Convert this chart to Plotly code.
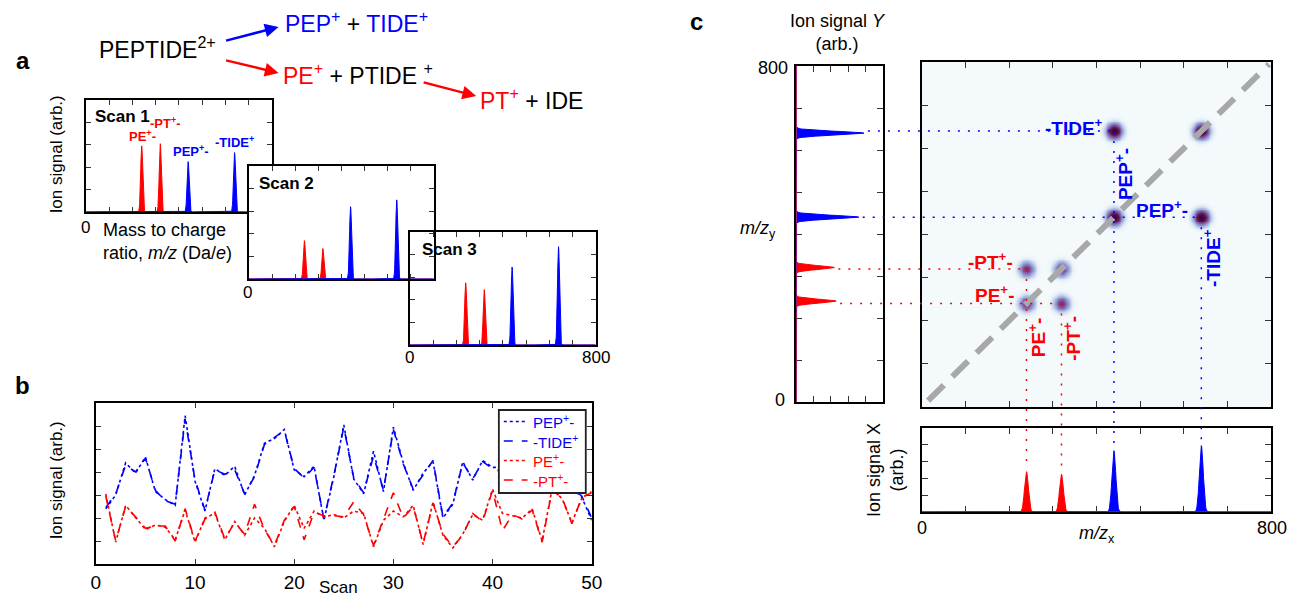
import numpy as np
import plotly.graph_objects as go

W, H = 1302, 598
FONT = "Liberation Sans, Arial, sans-serif"
BLUE = "#0000ff"
RED = "#ff0000"

# ---------------- data ----------------
ion_names = ["PE", "PT", "PEP", "TIDE"]
ion_mz = [240, 320, 440, 640]
ion_colors = [RED, RED, BLUE, BLUE]

scan1_heights = [0.59, 0.61, 0.45, 0.53]
scan2_heights = [0.34, 0.27, 0.64, 0.70]
scan3_heights = [0.55, 0.49, 0.69, 0.87]

scan_numbers = list(range(1, 51))
pep_signal = [2.4, 3.0, 4.4, 3.95, 4.65, 3.15, 2.8, 2.55, 6.45, 3.6,
              2.3, 4.15, 3.85, 4.25, 3.0, 3.85, 5.25, 5.45, 5.85, 4.1,
              3.8, 4.25, 1.9, 3.8, 6.05, 3.7, 3.05, 4.9, 3.15, 5.95,
              4.4, 3.2, 3.95, 4.45, 2.0, 2.6, 4.45, 3.65, 4.5, 4.2,
              4.2, 3.6, 4.5, 3.9, 4.8, 3.5, 4.6, 3.3, 2.9, 1.9]
tide_signal = [2.45, 3.05, 4.3, 4.0, 4.6, 3.2, 2.75, 2.6, 6.3, 3.65,
               2.35, 4.1, 3.9, 4.1, 3.05, 3.8, 5.2, 5.5, 5.8, 4.15,
               3.75, 4.2, 1.95, 3.85, 5.95, 3.75, 3.1, 4.7, 3.2, 5.85,
               4.35, 3.25, 3.85, 4.5, 2.05, 2.65, 4.4, 3.7, 4.45, 4.15,
               4.0, 3.65, 4.4, 3.95, 4.7, 3.55, 4.5, 3.35, 2.95, 2.0]
pe_signal = [3.05, 0.95, 2.55, 2.0, 1.5, 1.7, 1.6, 1.05, 2.35, 0.95,
             2.0, 2.2, 1.05, 1.85, 1.25, 2.0, 1.55, 0.75, 1.85, 2.55,
             1.55, 2.3, 2.05, 2.15, 2.0, 2.3, 2.2, 0.75, 1.9, 2.3,
             2.05, 2.55, 0.85, 2.7, 1.25, 0.7, 1.3, 2.15, 1.9, 3.25,
             2.2, 2.1, 2.0, 2.4, 1.0, 3.25, 2.85, 1.8, 2.85, 3.15]
pt_signal = [2.95, 1.0, 2.5, 2.05, 1.55, 1.65, 1.65, 1.0, 2.4, 1.0,
             1.95, 2.25, 1.1, 1.8, 1.3, 2.6, 1.5, 0.8, 1.9, 2.5,
             1.05, 2.25, 2.1, 2.1, 2.05, 2.7, 2.15, 0.8, 1.95, 3.1,
             2.0, 2.5, 0.9, 2.65, 1.3, 0.75, 1.25, 2.2, 1.85, 3.2,
             1.45, 2.15, 1.95, 2.35, 0.95, 3.2, 2.9, 1.75, 2.9, 3.1]

sum_x_heights = [0.48, 0.45, 0.73, 0.79]   # bottom projection (Ion signal X)
sum_y_heights = [0.46, 0.44, 0.72, 0.78]   # left projection (Ion signal Y)
guide_partner = [320, 240, 640, 440]        # end of dotted guide for each ion

spot_x = [440, 640, 440, 640, 240, 320, 240, 320]
spot_y = [640, 640, 440, 440, 320, 320, 240, 240]
spot_amp = [1.0, 1.0, 1.0, 1.0, 0.5, 0.5, 0.5, 0.5]

legend_names = ["PEP<sup>+</sup>-", "-TIDE<sup>+</sup>", "PE<sup>+</sup>-", "-PT<sup>+</sup>-"]
legend_colors = [BLUE, BLUE, RED, RED]
legend_dashes = ["dot", "dash", "dot", "dash"]

# ---------------- layout boxes (pixels: left, top, right, bottom) ----------------
BOX = {
    1: (82, 100, 270, 212),
    2: (247, 166, 434, 279),
    3: (410, 232, 598, 345),
    4: (92, 403, 594, 564),
    5: (801, 66, 889, 402),
    6: (928, 62, 1282, 407),
    7: (928, 428, 1282, 512),
}


def xdom(i):
    l, t, r, b = BOX[i]
    return [l / W, r / W]


def ydom(i):
    l, t, r, b = BOX[i]
    return [1 - b / H, 1 - t / H]


def paper_x(i, rng, v):
    l, t, r, b = BOX[i]
    return (l + (v - rng[0]) / (rng[1] - rng[0]) * (r - l)) / W


def paper_y(i, rng, v):
    l, t, r, b = BOX[i]
    return 1 - (b - (v - rng[0]) / (rng[1] - rng[0]) * (b - t)) / H


mz_grid = np.arange(0, 800.5, 1.0)


def profile(idx, heights, sigma=4.4):
    y = np.zeros_like(mz_grid)
    for k in idx:
        y += heights[k] * np.exp(-0.5 * ((mz_grid - ion_mz[k]) / sigma) ** 2)
    return y


fig = go.Figure()
red_idx = [0, 1]
blue_idx = [2, 3]

# ---- scans ----
for n, hts in zip([1, 2, 3], [scan1_heights, scan2_heights, scan3_heights]):
    for idx, col in [(red_idx, RED), (blue_idx, BLUE)]:
        fig.add_trace(go.Scatter(x=mz_grid, y=profile(idx, hts), mode="lines",
                                 line=dict(color=col, width=1), fill="tozeroy",
                                 fillcolor=col, showlegend=False, hoverinfo="skip",
                                 xaxis=f"x{n if n > 1 else ''}", yaxis=f"y{n if n > 1 else ''}"))

# ---- panel b ----
for name, vals, col, dash in zip(legend_names,
                                 [pep_signal, tide_signal, pe_signal, pt_signal],
                                 legend_colors, legend_dashes):
    fig.add_trace(go.Scatter(x=scan_numbers, y=vals, mode="lines", name=name,
                             line=dict(color=col, width=1.6, dash=dash),
                             showlegend=False, xaxis="x4", yaxis="y4"))

# ---- panel c: left projection ----
for idx, col in [(red_idx, RED), (blue_idx, BLUE)]:
    fig.add_trace(go.Scatter(x=profile(idx, sum_y_heights), y=mz_grid, mode="lines",
                             line=dict(color=col, width=1), fill="tozerox", fillcolor=col,
                             showlegend=False, hoverinfo="skip", xaxis="x5", yaxis="y5"))

# ---- panel c: covariance map ----
grid = np.arange(0, 801, 4.0)
GX, GY = np.meshgrid(grid, grid)
Z = np.zeros_like(GX)
for sx, sy, a in zip(spot_x, spot_y, spot_amp):
    Z += a * np.exp(-((GX - sx) ** 2 + (GY - sy) ** 2) / (2 * 10.0 ** 2))
cscale = [[0.0, "#f4fafb"], [0.02, "#e3ecf6"], [0.08, "#b6c4e6"], [0.2, "#8690cc"],
          [0.35, "#8a52a0"], [0.6, "#5c1a52"], [1.0, "#3a0030"]]
fig.add_trace(go.Heatmap(x=grid, y=grid, z=Z, zmin=0, zmax=1, colorscale=cscale,
                         showscale=False, zsmooth="best", hoverinfo="skip",
                         xaxis="x6", yaxis="y6"))

# ---- panel c: bottom projection ----
for idx, col in [(red_idx, RED), (blue_idx, BLUE)]:
    fig.add_trace(go.Scatter(x=mz_grid, y=profile(idx, sum_x_heights), mode="lines",
                             line=dict(color=col, width=1), fill="tozeroy", fillcolor=col,
                             showlegend=False, hoverinfo="skip", xaxis="x7", yaxis="y7"))


def axis(rng, dtick, anchor, labels=False, ticklen=4, lw=1.5, size=19):
    return dict(range=rng, dtick=dtick, tick0=0, anchor=anchor,
                showline=True, linecolor="black", linewidth=lw, mirror="ticks",
                ticks="inside", ticklen=ticklen, tickwidth=1, tickcolor="#333",
                showticklabels=labels, showgrid=False, zeroline=False,
                tickfont=dict(family=FONT, size=size, color="black"))


RNG = {1: ([0, 800], [0, 1]), 2: ([0, 800], [0, 1]), 3: ([0, 800], [0, 1]),
       4: ([0, 50], [0, 7]), 5: ([0, 1], [0, 800]), 6: ([0, 800], [0, 800]),
       7: ([0, 800], [0, 1])}
DT = {1: (100, 0.2), 2: (100, 0.2), 3: (100, 0.2), 4: (10, 1), 5: (0.2, 100),
      6: (100, 100), 7: (100, 0.2)}

lay = {}
for i in range(1, 8):
    sfx = "" if i == 1 else str(i)
    xa = axis(RNG[i][0], DT[i][0], f"y{sfx}", labels=(i == 4),
              ticklen=6 if i >= 5 else 5, lw=2 if i >= 5 else 1.6)
    ya = axis(RNG[i][1], DT[i][1], f"x{sfx}", ticklen=6 if i >= 5 else 5,
              lw=2 if i >= 5 else 1.6)
    xa["domain"] = xdom(i)
    ya["domain"] = ydom(i)
    lay[f"xaxis{sfx}"] = xa
    lay[f"yaxis{sfx}"] = ya

fig.update_layout(**lay)

# ---------------- shapes ----------------
shapes = []
shapes.append(dict(type="line", xref="x6", yref="y6", x0=15, y0=15, x1=795, y1=795,
                   line=dict(color="#a8a8a8", width=6, dash="22px,12px"), layer="above"))
for k in range(4):
    col = ion_colors[k]
    shapes.append(dict(type="line", xref="paper", yref="y6",
                       x0=paper_x(5, RNG[5][0], sum_y_heights[k]) + 4 / W,
                       x1=paper_x(6, RNG[6][0], guide_partner[k]),
                       y0=ion_mz[k], y1=ion_mz[k],
                       line=dict(color=col, width=1.5, dash="2px,8px")))
    shapes.append(dict(type="line", xref="x6", yref="paper",
                       x0=ion_mz[k], x1=ion_mz[k],
                       y0=paper_y(6, RNG[6][1], guide_partner[k]),
                       y1=paper_y(7, RNG[7][1], sum_x_heights[k]) + 5 / H,
                       line=dict(color=col, width=1.5, dash="2px,8px")))
shapes.append(dict(type="line", xref="x5", yref="y5", x0=0, x1=0, y0=0, y1=800,
                   line=dict(color="#d02040", width=1.2)))
shapes.append(dict(type="line", xref="x7", yref="y7", x0=0, x1=800, y0=0, y1=0,
                   line=dict(color="#d02040", width=1.2)))

# manual legend for panel b (box + samples)
LEG = (500, 410, 588, 493)
shapes.append(dict(type="rect", xref="paper", yref="paper",
                   x0=LEG[0] / W, x1=LEG[2] / W, y0=1 - LEG[3] / H, y1=1 - LEG[1] / H,
                   line=dict(color="#222", width=1.8), fillcolor="white", layer="above"))
leg_rows = [421.5, 441, 460.5, 480]
for k in range(4):
    shapes.append(dict(type="line", xref="paper", yref="paper",
                       x0=505 / W, x1=529 / W, y0=1 - leg_rows[k] / H, y1=1 - leg_rows[k] / H,
                       line=dict(color=legend_colors[k], width=1.6, dash=legend_dashes[k]),
                       layer="above"))

annotations = []


def arrow(tail, head, col):
    return dict(x=head[0] / W, y=1 - head[1] / H, xref="paper", yref="paper",
                ax=tail[0] - head[0], ay=tail[1] - head[1], axref="pixel", ayref="pixel",
                text="", showarrow=True, arrowhead=2, arrowsize=1.1, arrowwidth=2.5,
                arrowcolor=col, standoff=0, startstandoff=0)


annotations.append(arrow((223, 41), (277, 27), BLUE))
annotations.append(arrow((223, 60), (277, 73), RED))
annotations.append(arrow((423, 82), (477, 96), RED))


def ann(text, px, py, size=18, color="black", xanchor="center", yanchor="middle",
        angle=0, bold=False, align="center", pad=1):
    if bold:
        text = f"<b>{text}</b>"
    return dict(text=text, x=px / W, y=1 - py / H, xref="paper", yref="paper",
                showarrow=False, xanchor=xanchor, yanchor=yanchor, textangle=angle,
                align=align, borderpad=pad, font=dict(family=FONT, size=size, color=color))


def c(t, col):
    return f"<span style='color:{col}'>{t}</span>"


A = annotations
A.append(ann("a", 18, 60, 24, bold=True))
A.append(ann("b", 18, 385, 24, bold=True))
A.append(ann("c", 700, 22, 24, bold=True))
A.append(ann("PEPTIDE<sup>2+</sup>", 93, 48, 23, xanchor="left"))
A.append(ann(c("PEP<sup>+</sup>", BLUE) + " + " + c("TIDE<sup>+</sup>", BLUE), 281, 22, 23, xanchor="left"))
A.append(ann(c("PE<sup>+</sup>", RED) + " + PTIDE <sup>+</sup>", 279, 74, 23, xanchor="left"))
A.append(ann(c("PT<sup>+</sup>", RED) + " + IDE", 479, 99, 23, xanchor="left"))
A.append(ann("Scan 1", 89, 117, 17, bold=True, xanchor="left"))
A.append(ann("Scan 2", 255, 183, 17, bold=True, xanchor="left"))
A.append(ann("Scan 3", 420, 250, 17, bold=True, xanchor="left"))
A.append(ann("PE<sup>+</sup>-", 139, 136, 13, RED, bold=True))
A.append(ann("-PT<sup>+</sup>-", 163, 123, 13, RED, bold=True))
A.append(ann("PEP<sup>+</sup>-", 188, 151, 13, BLUE, bold=True))
A.append(ann("-TIDE<sup>+</sup>", 232, 142, 13, BLUE, bold=True))
A.append(ann("Ion signal (arb.)", 52, 154, 17, angle=-90))
A.append(ann("0", 82, 227, 17))
A.append(ann("Mass to charge<br>ratio, <i>m/z</i> (Da/<i>e</i>)", 97, 241, 18,
             xanchor="left", align="left"))
A.append(ann("0", 246, 292, 17))
A.append(ann("0", 410, 357, 17))
A.append(ann("800", 598, 357, 17))
A.append(ann("Ion signal (arb.)", 52, 480, 17, angle=-90))
A.append(ann("Scan", 338, 598, 17, yanchor="bottom", pad=0))
for k in range(4):
    A.append(ann(legend_names[k], 534, leg_rows[k], 15, legend_colors[k],
                 xanchor="left", pad=0))
A.append(ann("Ion signal <i>Y</i><br>(arb.)", 843, 33, 18))
A.append(ann("800", 795, 68, 18, xanchor="right"))
A.append(ann("0", 792, 400, 18, xanchor="right"))
A.append(ann("<i>m/z</i><sub>y</sub>", 762, 229, 18))
A.append(ann("Ion signal X<br>(arb.)", 891, 470, 18, angle=-90))
A.append(ann("0", 928, 528, 18))
A.append(ann("800", 1283, 528, 18))
A.append(ann("<i>m/z</i><sub>x</sub>", 1106, 534, 18))
A.append(ann("-TIDE<sup>+</sup>", 1082, 127, 19, BLUE, bold=True))
A.append(ann("PEP<sup>+</sup>-", 1133, 174, 19, BLUE, bold=True, angle=-90))
A.append(ann("PEP<sup>+</sup>-", 1171, 209, 19, BLUE, bold=True))
A.append(ann("-TIDE<sup>+</sup>", 1222, 258, 19, BLUE, bold=True, angle=-90))
A.append(ann("-PT<sup>+</sup>-", 998, 261, 19, RED, bold=True))
A.append(ann("PE<sup>+</sup>-", 1002, 294, 19, RED, bold=True))
A.append(ann("PE<sup>+</sup>-", 1045, 338, 19, RED, bold=True, angle=-90))
A.append(ann("-PT<sup>+</sup>-", 1080, 338, 19, RED, bold=True, angle=-90))

fig.update_layout(
    width=W, height=H, margin=dict(l=0, r=0, t=0, b=0),
    paper_bgcolor="white", plot_bgcolor="white",
    font=dict(family=FONT, size=16, color="black"),
    shapes=shapes, annotations=annotations,
    showlegend=False,
)

fig.write_html("out.html", config={"displayModeBar": False},
               post_script="document.body.style.margin='0';document.body.style.overflow='hidden';")
